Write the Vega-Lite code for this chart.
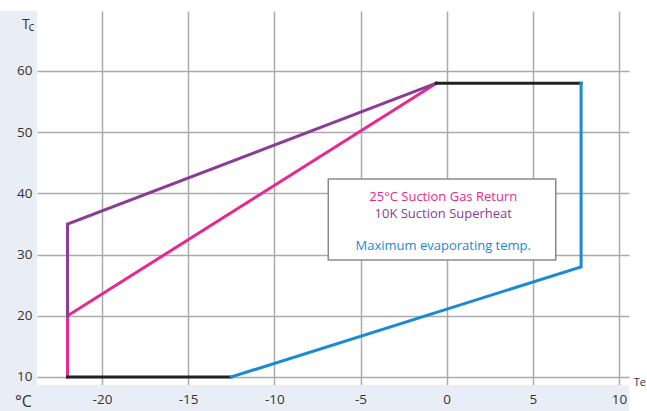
{
  "$schema": "https://vega.github.io/schema/vega-lite/v6.json",
  "width": 592,
  "height": 374,
  "autosize": {"type": "none"},
  "padding": {"left": 37, "top": 11, "right": 18, "bottom": 26},
  "background": "white",
  "data": {"values": [{}]},
  "config": {
    "view": {"stroke": null},
    "font": "Open Sans",
    "axis": {"domain": false, "ticks": false}
  },
  "resolve": {"axis": {"x": "independent", "y": "independent"}},
  "layer": [
    {
      "mark": {"type": "rect", "color": "#e9eef6", "clip": false},
      "encoding": {
        "x": {"datum": -30, "type": "quantitative", "scale": {"domain": [-23.772, 10.58], "nice": false, "zero": false}, "axis": null},
        "x2": {"datum": -23.772},
        "y": {"datum": 0, "type": "quantitative", "scale": {"domain": [8.69, 69.8], "nice": false, "zero": false}, "axis": null},
        "y2": {"datum": 69.8}
      }
    },
    {
      "mark": {"type": "rect", "color": "#e9eef6", "clip": false},
      "encoding": {
        "x": {"datum": -30, "type": "quantitative", "axis": null},
        "x2": {"datum": 10.58},
        "y": {"datum": 0, "type": "quantitative", "axis": null},
        "y2": {"datum": 8.69}
      }
    },
    {
      "data": {
        "values": [
          {"series": "pink", "order": 1, "te": -22, "tc": 10},
          {"series": "pink", "order": 2, "te": -22, "tc": 20},
          {"series": "pink", "order": 3, "te": -0.6, "tc": 58},
          {"series": "purple", "order": 1, "te": -22, "tc": 20},
          {"series": "purple", "order": 2, "te": -22, "tc": 35},
          {"series": "purple", "order": 3, "te": -0.6, "tc": 58},
          {"series": "blackbottom", "order": 1, "te": -22, "tc": 10},
          {"series": "blackbottom", "order": 2, "te": -12.5, "tc": 10},
          {"series": "blacktop", "order": 1, "te": -0.6, "tc": 58},
          {"series": "blacktop", "order": 2, "te": 7.8, "tc": 58},
          {"series": "blue", "order": 1, "te": -12.5, "tc": 10},
          {"series": "blue", "order": 2, "te": 7.8, "tc": 28},
          {"series": "blue", "order": 3, "te": 7.8, "tc": 58}
        ]
      },
      "mark": {"type": "line", "strokeWidth": 3, "strokeCap": "square"},
      "encoding": {
        "x": {"field": "te", "type": "quantitative", "axis": {"grid": true, "labels": false, "gridColor": "#aaaaaa", "gridWidth": 1.5, "values": [-20, -15, -10, -5, 0, 5, 10], "title": null, "orient": "bottom", "zindex": 0}},
        "y": {"field": "tc", "type": "quantitative", "axis": {"grid": true, "labels": false, "gridColor": "#aaaaaa", "gridWidth": 1.5, "values": [10, 20, 30, 40, 50, 60], "title": null, "orient": "left", "zindex": 0}},
        "order": {"field": "order"},
        "detail": {"field": "series"},
        "color": {"field": "series", "type": "nominal", "legend": null,
          "scale": {"domain": ["pink", "purple", "blackbottom", "blacktop", "blue"], "range": ["#e8288e", "#8c3b97", "#222222", "#222222", "#1a8ad4"]}}
      }
    },
    {
      "mark": {"type": "rect", "fill": "white", "stroke": "#8a8a8a", "strokeWidth": 1.5},
      "encoding": {
        "x": {"datum": -6.87, "type": "quantitative", "axis": {"grid": false, "labels": true, "labelFontSize": 13.5, "labelColor": "#333333", "labelPadding": 7, "values": [-20, -15, -10, -5, 0, 5, 10], "labelExpr": "'' + datum.value", "title": null, "orient": "bottom", "zindex": 1}},
        "x2": {"datum": 6.33},
        "y": {"datum": 29.1, "type": "quantitative", "axis": {"grid": false, "labels": true, "labelFontSize": 13.5, "labelColor": "#333333", "labelPadding": 5, "values": [10, 20, 30, 40, 50, 60], "labelExpr": "'' + datum.value", "title": null, "orient": "left", "zindex": 1}},
        "y2": {"datum": 42.35}
      }
    },
    {
      "data": {
        "values": [
          {"label": "25°C Suction Gas Return", "te": -0.2, "tc": 39.4, "kind": "pink"},
          {"label": "10K Suction Superheat", "te": -0.2, "tc": 36.7, "kind": "purple"},
          {"label": "Maximum evaporating temp.", "te": -0.2, "tc": 31.4, "kind": "blue"}
        ]
      },
      "mark": {"type": "text", "fontSize": 13, "align": "center", "baseline": "middle"},
      "encoding": {
        "x": {"field": "te", "type": "quantitative", "axis": null},
        "y": {"field": "tc", "type": "quantitative", "axis": null},
        "text": {"field": "label"},
        "color": {"field": "kind", "type": "nominal", "legend": null,
          "scale": {"domain": ["pink", "purple", "blue"], "range": ["#e8409a", "#8e44a0", "#1f96d6"]}}
      }
    },
    {
      "data": {"values": [{"label": "T", "te": -24.64, "tc": 66.8}]},
      "mark": {"type": "text", "align": "left", "baseline": "alphabetic", "clip": false, "color": "#333333", "fontSize": 14},
      "encoding": {
        "x": {"field": "te", "type": "quantitative", "axis": null},
        "y": {"field": "tc", "type": "quantitative", "axis": null},
        "text": {"field": "label"}
      }
    },
    {
      "data": {"values": [{"label": "c", "te": -24.27, "tc": 66.5}]},
      "mark": {"type": "text", "align": "left", "baseline": "alphabetic", "clip": false, "color": "#333333", "fontSize": 12},
      "encoding": {
        "x": {"field": "te", "type": "quantitative", "axis": null},
        "y": {"field": "tc", "type": "quantitative", "axis": null},
        "text": {"field": "label"}
      }
    },
    {
      "data": {"values": [{"label": "°C", "te": -25.05, "tc": 5.15}]},
      "mark": {"type": "text", "align": "left", "baseline": "alphabetic", "clip": false, "color": "#333333", "fontSize": 16},
      "encoding": {
        "x": {"field": "te", "type": "quantitative", "axis": null},
        "y": {"field": "tc", "type": "quantitative", "axis": null},
        "text": {"field": "label"}
      }
    },
    {
      "data": {"values": [{"label": "Te", "te": 10.85, "tc": 8.5}]},
      "mark": {"type": "text", "align": "left", "baseline": "alphabetic", "clip": false, "color": "#333333", "fontSize": 11},
      "encoding": {
        "x": {"field": "te", "type": "quantitative", "axis": null},
        "y": {"field": "tc", "type": "quantitative", "axis": null},
        "text": {"field": "label"}
      }
    }
  ]
}
